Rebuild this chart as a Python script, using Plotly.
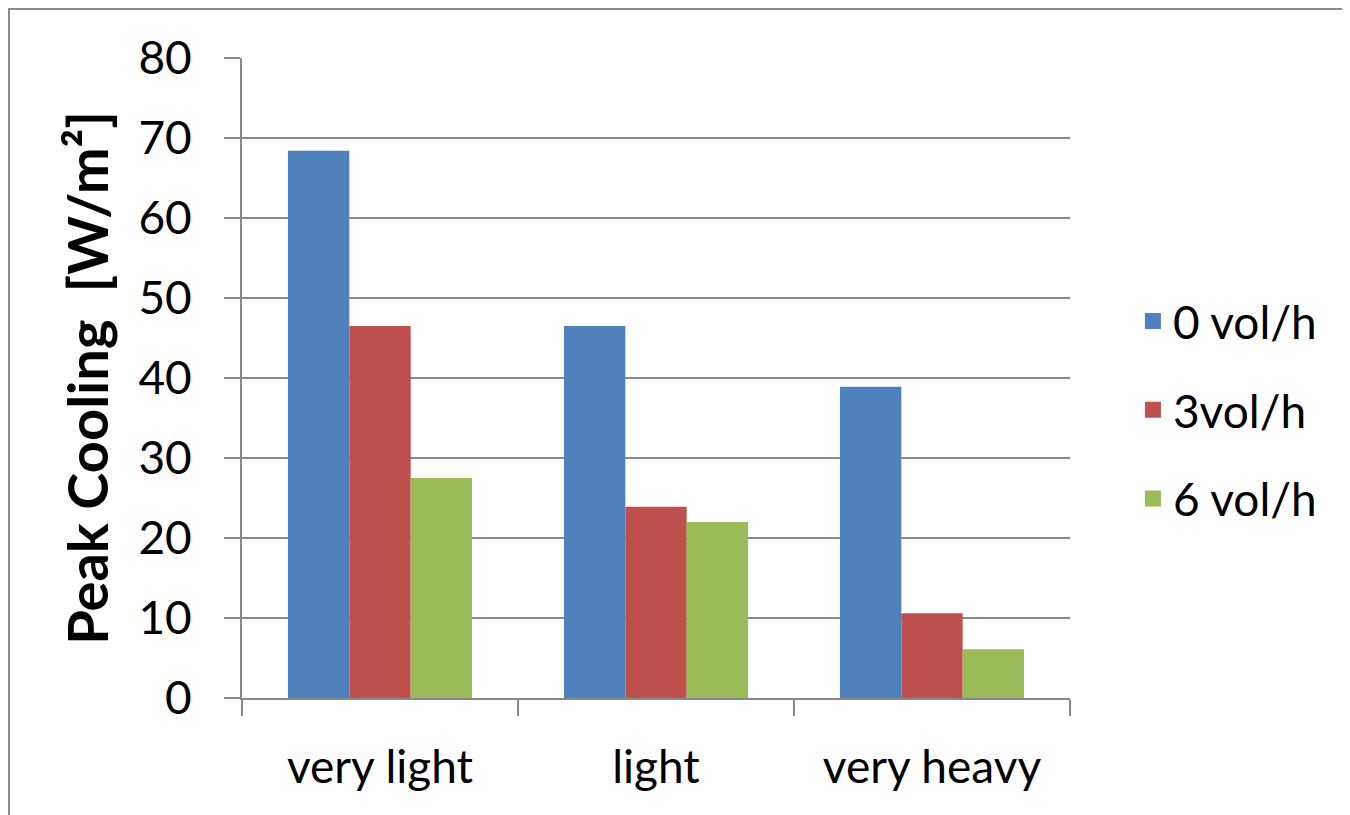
import plotly.graph_objects as go

categories = ["very light", "light", "very heavy"]
series_names = ["0 vol/h", "3vol/h", "6 vol/h"]
vals_0 = [68.4, 46.5, 38.9]
vals_3 = [46.5, 23.9, 10.6]
vals_6 = [27.5, 22.0, 6.1]
colors = ["#4F81BD", "#C0504D", "#9BBB59"]
y_ticks = [0, 10, 20, 30, 40, 50, 60, 70, 80]

FONT = "Lato, Carlito, Calibri, sans-serif"
GRID = "#898989"

L, T, W, H = 234, 50, 828, 640

fig = go.Figure()
for i, (name, vals) in enumerate(zip(series_names, [vals_0, vals_3, vals_6])):
    fig.add_trace(go.Bar(x=categories, y=vals, name=name, marker_color=colors[i],
                         marker_line_width=0, showlegend=False))
# legend entries with larger square swatches
for i, name in enumerate(series_names):
    fig.add_trace(go.Scatter(x=[None], y=[None], mode="markers", name=name,
                             marker=dict(symbol="square", size=16, color=colors[i]),
                             legendgroup=f"g{i}", showlegend=True))

fig.update_layout(
    width=1350, height=815,
    margin=dict(l=L, r=1350 - L - W, t=T, b=815 - T - H),
    paper_bgcolor="white", plot_bgcolor="white",
    bargap=0.333, bargroupgap=0,
    font=dict(family=FONT, size=46, color="black"),
    showlegend=True,
    legend=dict(x=1.076, xanchor="left", y=0.45, yanchor="middle",
                font=dict(size=46), tracegroupgap=26, bgcolor="rgba(0,0,0,0)",
                itemsizing="trace"),
    xaxis=dict(showline=True, linecolor=GRID, linewidth=2, ticks="outside",
               tickson="boundaries", ticklen=16, tickwidth=2, tickcolor=GRID,
               showgrid=False, ticklabelstandoff=28),
    yaxis=dict(range=[0, 80], tickvals=y_ticks, showline=True, linecolor=GRID,
               linewidth=2, ticks="outside", ticklen=16, tickwidth=2, tickcolor=GRID,
               showgrid=True, gridcolor=GRID, gridwidth=2, zeroline=False,
               ticklabelstandoff=23,
               title=dict(text="<b>Peak Cooling  [W/m²]</b>", standoff=12,
                          font=dict(size=56))),
)
# chart-area frame
fig.add_shape(type="rect", xref="paper", yref="paper",
              x0=(1 - L) / W, x1=(1400 - L) / W,
              y0=(T + H - 900) / H, y1=(T + H - 1) / H,
              line=dict(color="#8a8a8a", width=2), fillcolor="rgba(0,0,0,0)", layer="below")

fig.write_html("out.html")
